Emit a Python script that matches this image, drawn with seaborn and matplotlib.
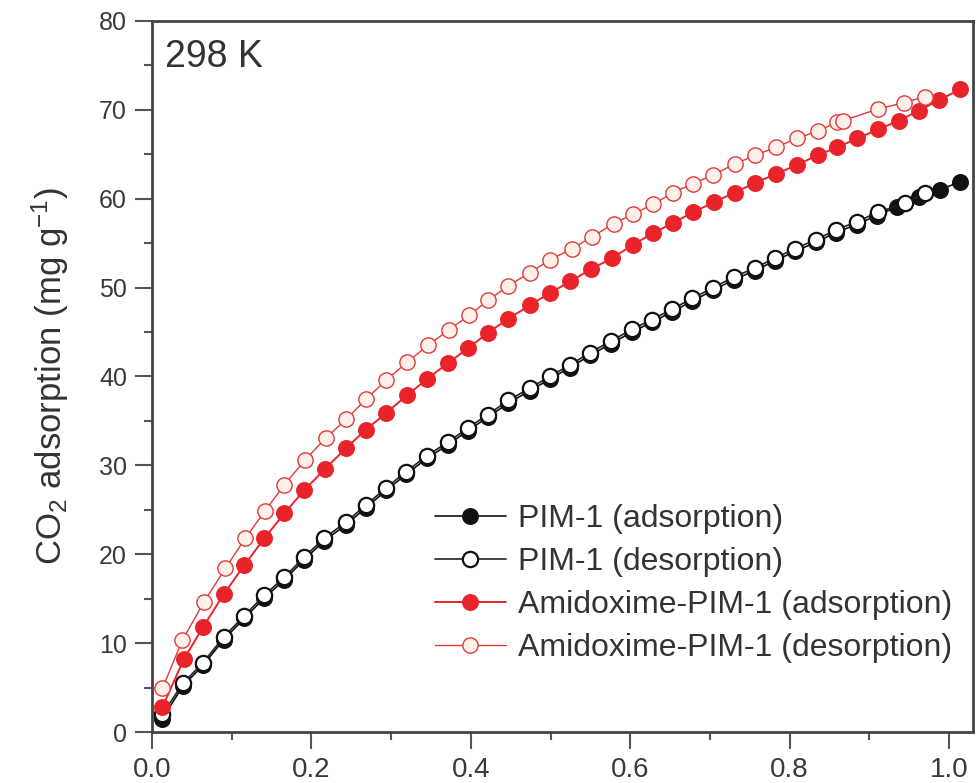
import matplotlib
matplotlib.use("Agg")
import matplotlib.pyplot as plt
import seaborn as sns
from matplotlib.ticker import MultipleLocator

# PIM-1, adsorption branch (filled black)
pim_ads_p = [0.013, 0.039, 0.064, 0.090, 0.116, 0.141, 0.166, 0.191, 0.216, 0.243,
             0.268, 0.294, 0.319, 0.345, 0.371, 0.396, 0.421, 0.447, 0.474, 0.499,
             0.524, 0.550, 0.576, 0.602, 0.627, 0.653, 0.678, 0.704, 0.730, 0.756,
             0.781, 0.807, 0.833, 0.858, 0.884, 0.909, 0.935, 0.962, 0.988, 1.014]
pim_ads_q = [1.5, 5.2, 7.5, 10.4, 12.8, 15.1, 17.1, 19.4, 21.5, 23.3,
             25.2, 27.2, 29.0, 30.8, 32.3, 33.9, 35.4, 37.0, 38.4, 39.7,
             41.0, 42.4, 43.7, 45.0, 46.1, 47.3, 48.5, 49.7, 50.9, 51.9,
             53.0, 54.1, 55.1, 56.2, 57.1, 58.1, 59.1, 60.2, 61.0, 61.9]

# PIM-1, desorption branch (open black)
pim_des_p = [0.013, 0.039, 0.064, 0.090, 0.116, 0.141, 0.166, 0.191, 0.216, 0.243,
             0.268, 0.294, 0.319, 0.345, 0.371, 0.396, 0.421, 0.447, 0.474, 0.499,
             0.524, 0.550, 0.576, 0.602, 0.627, 0.653, 0.678, 0.704, 0.730, 0.756,
             0.781, 0.807, 0.833, 0.858, 0.884, 0.911, 0.945, 0.970]
pim_des_q = [2.0, 5.5, 7.8, 10.7, 13.1, 15.4, 17.4, 19.7, 21.8, 23.6,
             25.5, 27.5, 29.3, 31.1, 32.6, 34.2, 35.7, 37.3, 38.7, 40.0,
             41.3, 42.7, 44.0, 45.3, 46.4, 47.6, 48.8, 50.0, 51.2, 52.2,
             53.3, 54.4, 55.4, 56.5, 57.4, 58.5, 59.5, 60.7]

# Amidoxime-PIM-1, adsorption branch (filled red)
ami_ads_p = [0.013, 0.040, 0.064, 0.090, 0.116, 0.141, 0.166, 0.191, 0.217, 0.243,
             0.268, 0.294, 0.320, 0.345, 0.371, 0.397, 0.421, 0.447, 0.474, 0.499,
             0.525, 0.551, 0.577, 0.603, 0.628, 0.654, 0.679, 0.705, 0.731, 0.757,
             0.783, 0.809, 0.835, 0.860, 0.885, 0.911, 0.937, 0.962, 0.987, 1.014]
ami_ads_q = [2.8, 8.2, 11.8, 15.5, 18.8, 21.8, 24.6, 27.2, 29.6, 31.9,
             34.0, 35.9, 37.9, 39.7, 41.5, 43.2, 44.9, 46.5, 48.0, 49.4,
             50.7, 52.1, 53.3, 54.8, 56.1, 57.3, 58.5, 59.6, 60.7, 61.8,
             62.8, 63.8, 64.9, 65.8, 66.8, 67.8, 68.8, 69.9, 71.1, 72.3]

# Amidoxime-PIM-1, desorption branch (open red)
ami_des_p = [0.013, 0.038, 0.065, 0.092, 0.117, 0.142, 0.166, 0.192, 0.218, 0.244,
             0.269, 0.294, 0.320, 0.346, 0.372, 0.398, 0.422, 0.447, 0.474, 0.499,
             0.527, 0.552, 0.579, 0.604, 0.629, 0.654, 0.679, 0.704, 0.731, 0.757,
             0.783, 0.809, 0.835, 0.859, 0.867, 0.911, 0.943, 0.970]
ami_des_q = [4.9, 10.3, 14.6, 18.4, 21.8, 24.9, 27.8, 30.6, 33.1, 35.2,
             37.5, 39.6, 41.6, 43.5, 45.2, 46.9, 48.6, 50.2, 51.7, 53.1,
             54.4, 55.7, 57.2, 58.3, 59.4, 60.7, 61.7, 62.7, 63.9, 64.9,
             65.8, 66.8, 67.6, 68.6, 68.8, 70.1, 70.8, 71.5]

labels = ["PIM-1 (adsorption)", "PIM-1 (desorption)",
          "Amidoxime-PIM-1 (adsorption)", "Amidoxime-PIM-1 (desorption)"]

sns.set_style("ticks")
plt.rcParams["font.family"] = ["Liberation Sans", "DejaVu Sans"]
plt.rcParams["mathtext.fontset"] = "custom"
plt.rcParams["mathtext.rm"] = "Liberation Sans"
plt.rcParams["mathtext.it"] = "Liberation Sans:italic"

red = "#e8242a"
fig = plt.figure(figsize=(9.76, 7.83), dpi=100)
ax = fig.add_axes([152 / 976, 51 / 783, 821 / 976, 711 / 783])

sns.lineplot(x=pim_ads_p, y=pim_ads_q, ax=ax, estimator=None, color="#111111",
             lw=1.2, marker="o", markersize=11, markerfacecolor="#111111",
             markeredgecolor="#111111", markeredgewidth=1.2, label=labels[0])
sns.lineplot(x=pim_des_p, y=pim_des_q, ax=ax, estimator=None, color="#222222",
             lw=1.2, marker="o", markersize=11, markerfacecolor="white",
             markeredgecolor="#111111", markeredgewidth=1.6, label=labels[1])
sns.lineplot(x=ami_ads_p, y=ami_ads_q, ax=ax, estimator=None, color=red,
             lw=1.4, marker="o", markersize=11, markerfacecolor=red,
             markeredgecolor=red, markeredgewidth=1.2, label=labels[2])
sns.lineplot(x=ami_des_p, y=ami_des_q, ax=ax, estimator=None, color="#e03a3a",
             lw=1.0, marker="o", markersize=11, markerfacecolor="#fff0ea",
             markeredgecolor="#e03a3a", markeredgewidth=1.0, label=labels[3])

ax.set_xlim(0, 1.03)
ax.set_ylim(0, 80)
ax.xaxis.set_major_locator(MultipleLocator(0.2))
ax.xaxis.set_minor_locator(MultipleLocator(0.1))
ax.yaxis.set_major_locator(MultipleLocator(10))
ax.yaxis.set_minor_locator(MultipleLocator(5))
ax.set_xticks([0, 0.2, 0.4, 0.6, 0.8, 1.0])
ax.set_xticklabels(["0.0", "0.2", "0.4", "0.6", "0.8", "1.0"])

ax.tick_params(axis="both", which="major", direction="out", length=12, width=1.5,
               color="#555555", labelcolor="#3a3a3a", pad=6)
ax.tick_params(axis="both", which="minor", direction="out", length=6, width=1.5,
               color="#555555")
ax.tick_params(axis="x", labelsize=20)
ax.tick_params(axis="y", labelsize=18)
for s in ax.spines.values():
    s.set_visible(True)
    s.set_linewidth(2)
    s.set_color("#444444")

ax.set_xlabel("")
ax.set_ylabel("CO$_2$ adsorption (mg g$^{-1}$)", fontsize=25, color="#333333",
              labelpad=20)
ax.text(0.016, 0.975, "298 K", transform=ax.transAxes, fontsize=27,
        color="#333333", ha="left", va="top")

ax.legend(loc="upper left", bbox_to_anchor=(0.345, 0.32), frameon=False,
          fontsize=23, handlelength=2.2, handletextpad=0.4, labelspacing=0.4,
          borderpad=0, borderaxespad=0, labelcolor="#333333")

fig.savefig("out.png", dpi=100)
